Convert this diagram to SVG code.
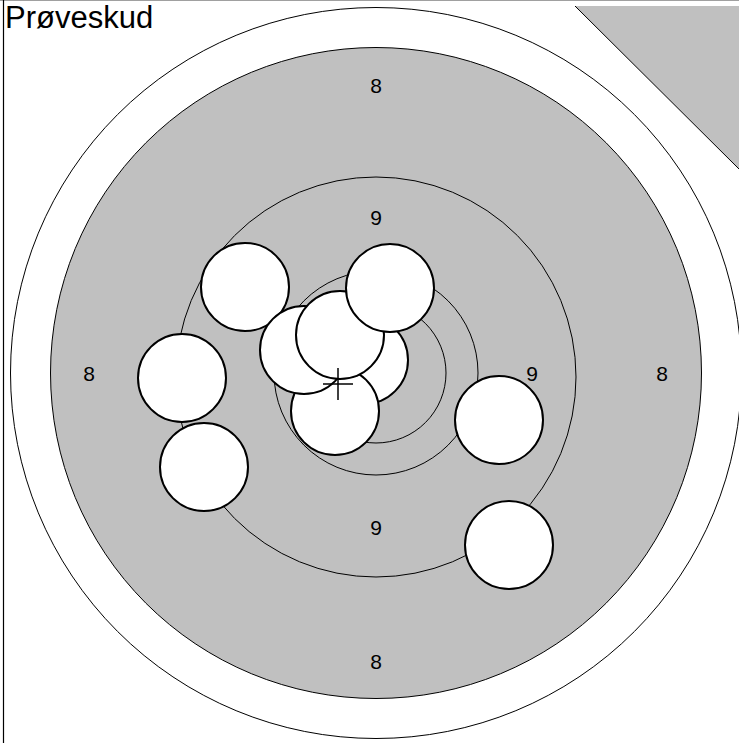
<svg xmlns="http://www.w3.org/2000/svg" width="739" height="743" viewBox="0 0 739 743">
<style>
.ring{fill:none;stroke:#000;stroke-width:1}
.lbl{font-family:"Liberation Sans",Arial,sans-serif;font-size:21px;fill:#000;text-anchor:middle}
.shot{fill:#fff;stroke:#000;stroke-width:2}
</style>
<rect x="0" y="0" width="739" height="743" fill="#fff"/>
<line x1="0" y1="0.5" x2="739" y2="0.5" stroke="#a0a0a0" stroke-width="1"/>
<line x1="3.5" y1="0" x2="3.5" y2="743" stroke="#000" stroke-width="1.2"/>
<g id="corner">
<polygon points="575,6 739,6 739,169" fill="#c0c0c0"/>
<line x1="575" y1="6" x2="739" y2="169" stroke="#000" stroke-width="1"/>
</g>
<text x="5" y="28" font-family="Liberation Sans,Arial,sans-serif" font-size="31" fill="#000">Prøveskud</text>
<g id="target">
<circle cx="376" cy="373" r="365.5" fill="#fff" stroke="#000" stroke-width="1"/>
<circle cx="376" cy="373" r="325.5" fill="#c0c0c0" stroke="#000" stroke-width="1"/>
<circle class="ring" cx="376" cy="377" r="200"/>
<circle class="ring" cx="376" cy="373" r="102"/>
<circle class="ring" cx="376" cy="373" r="70"/>
</g>
<g id="labels">
<text class="lbl" x="376" y="93">8</text>
<text class="lbl" x="376" y="669">8</text>
<text class="lbl" x="89" y="381">8</text>
<text class="lbl" x="662" y="381">8</text>
<text class="lbl" x="376" y="225">9</text>
<text class="lbl" x="376" y="535">9</text>
<text class="lbl" x="532" y="381">9</text>
<text class="lbl" x="220" y="381">9</text>
</g>
<g id="shots">
<circle id="s1" class="shot" cx="245" cy="287" r="44"/>
<circle id="s2" class="shot" cx="182" cy="378" r="44"/>
<circle id="s3" class="shot" cx="204" cy="467" r="44"/>
<circle id="s4" class="shot" cx="499" cy="420" r="44"/>
<circle id="s5" class="shot" cx="509" cy="545" r="44"/>
<circle id="s6" class="shot" cx="364" cy="360" r="44"/>
<circle id="s7" class="shot" cx="335" cy="411" r="44"/>
<circle id="s8" class="shot" cx="304" cy="350" r="44"/>
<circle id="s9" class="shot" cx="340" cy="335" r="44"/>
<circle id="s10" class="shot" cx="390" cy="288" r="44"/>
</g>
<g id="cross" stroke="#000" stroke-width="1.5">
<line x1="323" y1="384" x2="353" y2="384"/>
<line x1="338" y1="368" x2="338" y2="400"/>
</g>
</svg>
